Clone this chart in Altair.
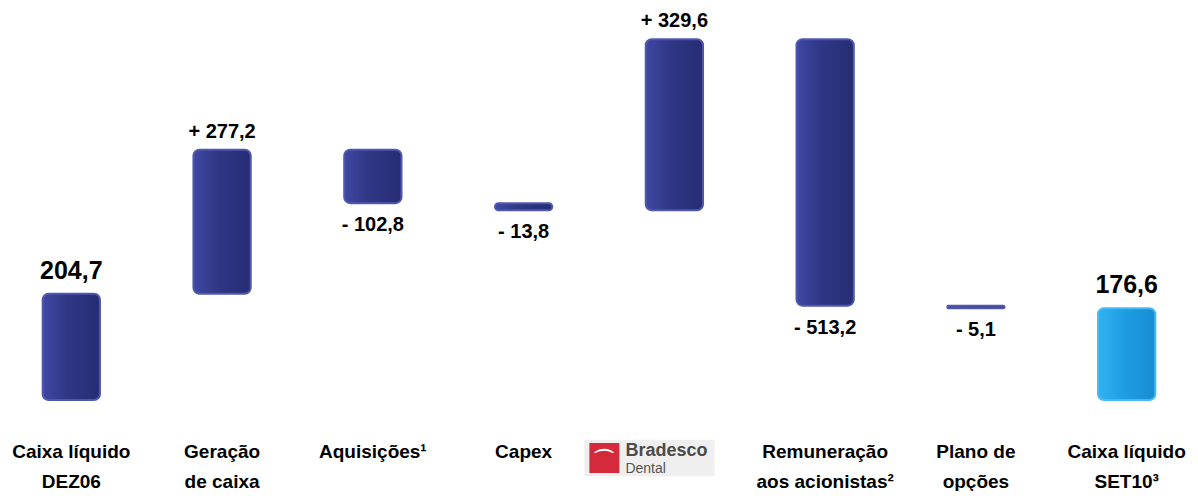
import altair as alt
import pandas as pd

# ---- data ----
categories = ["Caixa líquido|DEZ06", "Geração|de caixa", "Aquisições¹", "Capex",
              "Bradesco Dental", "Remuneração|aos acionistas²", "Plano de|opções",
              "Caixa líquido|SET10³"]
values = [204.7, 277.2, -102.8, -13.8, 329.6, -513.2, -5.1, 176.6]
kinds = ["total", "delta", "delta", "delta", "delta", "delta", "delta", "total"]

rows = []
running = 0.0
for cat, v, k in zip(categories, values, kinds):
    if k == "total":
        start, end = 0.0, v
        running = v
        label = f"{v:.1f}".replace(".", ",")
        pos = "total"
    else:
        start = running
        end = running + v
        running = end
        sign = "+ " if v > 0 else "- "
        label = sign + f"{abs(v):.1f}".replace(".", ",")
        pos = "up" if v > 0 else "down"
    rows.append(dict(cat=cat, start=start, end=end, top=max(start, end),
                     bottom=min(start, end), label=label, pos=pos, kind=k))
df = pd.DataFrame(rows)

FONT = "Arial, Liberation Sans"

x = alt.X("cat:N", sort=categories, title=None,
          scale=alt.Scale(paddingInner=0.62, paddingOuter=0.23),
          axis=alt.Axis(domain=False, ticks=False, grid=False, labelAngle=0, labelFontSize=19,
                        labelFontWeight="bold", labelColor="black", labelFont=FONT,
                        labelPadding=42, labelLineHeight=30, labelBaseline="top",
                        labelLimit=250,
                        labelExpr="datum.label == 'Bradesco Dental' ? '' : split(datum.label, '|')"))
yscale = alt.Scale(domain=[0, 755], nice=False, zero=True)

base = alt.Chart(df)

navy = alt.Gradient(gradient="linear", x1=0, x2=1, y1=0, y2=0,
                    stops=[alt.GradientStop(color="#3F48A3", offset=0),
                           alt.GradientStop(color="#2F3684", offset=0.45),
                           alt.GradientStop(color="#272D74", offset=1)])
blue = alt.Gradient(gradient="linear", x1=0, x2=1, y1=0, y2=0,
                    stops=[alt.GradientStop(color="#33B2F2", offset=0),
                           alt.GradientStop(color="#1E9DE3", offset=0.45),
                           alt.GradientStop(color="#178DD3", offset=1)])

bars = base.transform_filter("datum.cat != 'Caixa líquido|SET10³'").mark_bar(
    color=navy, cornerRadius=6, stroke="#5058AE", strokeWidth=2
).encode(x=x, y=alt.Y("start:Q", scale=yscale, axis=None), y2="end:Q")

endbar = base.transform_filter("datum.cat == 'Caixa líquido|SET10³'").mark_bar(
    color=blue, cornerRadius=6, stroke="#45BBF5", strokeWidth=2
).encode(x=x, y=alt.Y("start:Q", scale=yscale, axis=None), y2="end:Q")

txt_total = base.transform_filter("datum.pos == 'total'").mark_text(
    font=FONT, fontSize=25, fontWeight="bold", color="black", baseline="bottom", dy=-10
).encode(x=x, y=alt.Y("top:Q", scale=yscale), text="label:N")

txt_up = base.transform_filter("datum.pos == 'up'").mark_text(
    font=FONT, fontSize=20, fontWeight="bold", color="black", baseline="bottom", dy=-8
).encode(x=x, y=alt.Y("top:Q", scale=yscale), text="label:N")

txt_down = base.transform_filter("datum.pos == 'down'").mark_text(
    font=FONT, fontSize=20, fontWeight="bold", color="black", baseline="top", dy=12
).encode(x=x, y=alt.Y("bottom:Q", scale=yscale), text="label:N")

# Bradesco Dental logo drawn as marks at its category
logo = pd.DataFrame({"cat": ["Bradesco Dental"]})
lb = alt.Chart(logo)
logo_bg = lb.mark_point(shape="M-1,-0.28L1,-0.28L1,0.28L-1,0.28Z", filled=True,
                        color="#EFEFEF", opacity=1, size=16900, xOffset=-25).encode(
    x=x, y=alt.value(450))
logo_sq = lb.mark_square(color="#D42A3C", opacity=1, size=900, xOffset=-70).encode(
    x=x, y=alt.value(450))
logo_icon = lb.mark_text(text="⌒", font=FONT, fontSize=22, fontWeight="bold", color="white",
                         xOffset=-70, dy=2).encode(x=x, y=alt.value(450))
logo_t1 = lb.mark_text(text="Bradesco", font=FONT, fontSize=18, fontWeight="bold",
                       color="#4A4A4A", align="left", xOffset=-49).encode(x=x, y=alt.value(443))
logo_t2 = lb.mark_text(text="Dental", font=FONT, fontSize=14, color="#555555",
                       align="left", xOffset=-49).encode(x=x, y=alt.value(461))

chart = alt.layer(bars, endbar, txt_total, txt_up, txt_down,
                  logo_bg, logo_sq, logo_icon, logo_t1, logo_t2).properties(
    width=1182, height=392, padding=0
).configure(background="white").configure_view(stroke=None, strokeWidth=0)

chart.save("out.html", embed_options={"renderer": "svg", "actions": False})
